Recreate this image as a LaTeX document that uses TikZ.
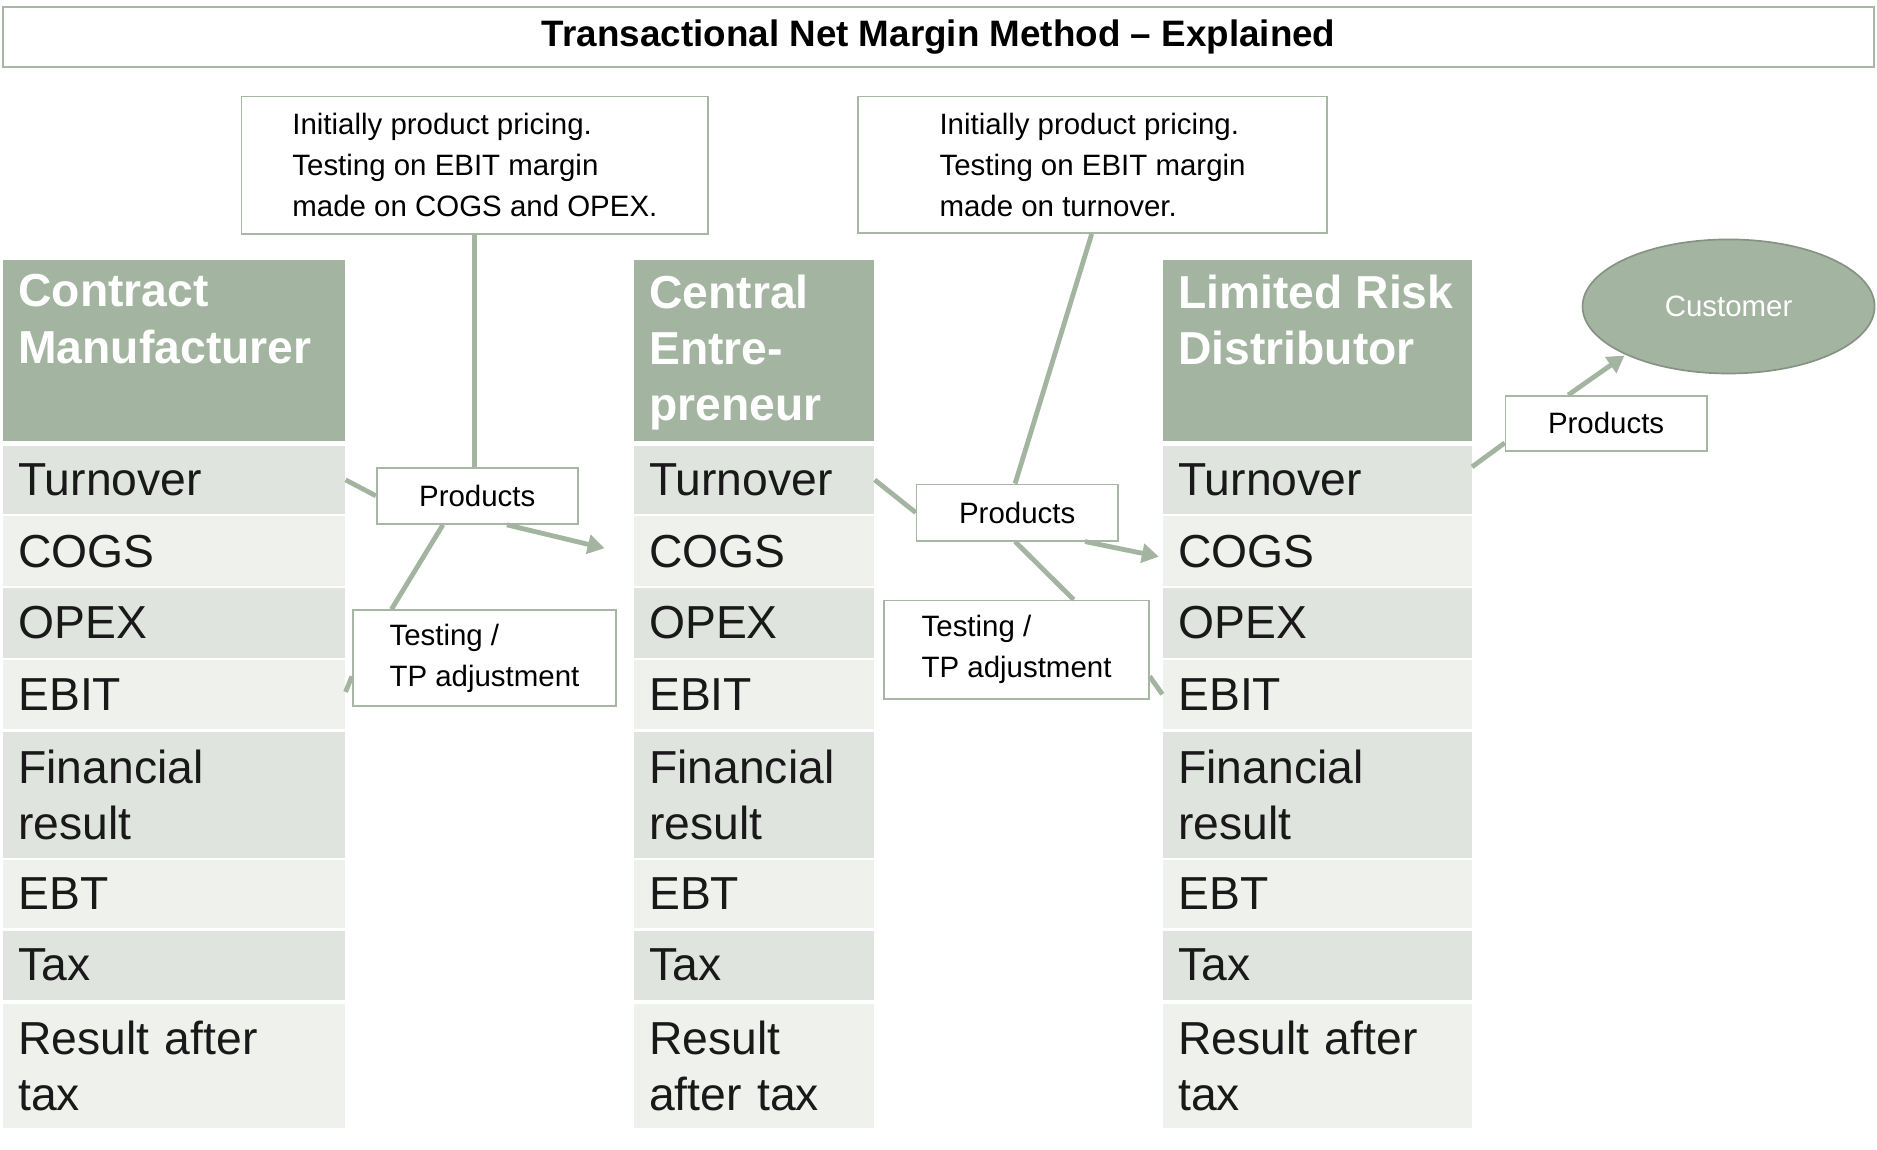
\documentclass[tikz,border=0pt]{standalone}
\usepackage{fontspec}
\setmainfont{Liberation Sans}
\usetikzlibrary{arrows.meta,positioning,shapes.geometric}
\definecolor{sage}{HTML}{A3B5A0}
\definecolor{rowdark}{HTML}{E0E4DE}
\definecolor{rowlight}{HTML}{EFF1ED}
\definecolor{boxline}{HTML}{A8B6A5}
\tikzset{
	cell/.style={draw=none, anchor=north west, inner xsep=0.26cm, inner ysep=0pt, align=left,
			font=\fontsize{22}{26.7}\selectfont, text=black!90},
	headtext/.style={anchor=north west, inner sep=0pt, align=left, text=white,
			font=\fontsize{22}{26.7}\selectfont\bfseries},
	note/.style={draw=boxline, thick, anchor=north west, align=left, inner xsep=0.22cm,
			font=\fontsize{14}{19.5}\selectfont},
	link/.style={draw=sage, line width=2.3pt},
	flow/.style={link, -{Triangle[length=8pt,width=9pt]}}
}
% one cell of a column: name, x, y, width, height, colour, text
\newcommand\cellbox[7]{%
	\pgfmathsetlengthmacro\cw{(#4-26)*0.02cm}%
	\node[cell, fill=#6, minimum width=#4*0.02cm, minimum height=#5*0.02cm, text width=\cw]
		(#1) at (#2*0.02, -#3*0.02) {#7};}
% a whole column: prefix, x, width, header text
\newcommand\ledger[4]{%
	\node[fill=sage, anchor=north west, inner sep=0pt, minimum width=#3*0.02cm,
		minimum height=151*0.02cm] (#1head) at (#2*0.02, -217*0.02) {};
	\node[headtext] (#1title) at (#2*0.02+0.26, -229*0.02) {#4};
	\cellbox{#1turn}{#2}{372}{#3}{57}{rowdark}{Turnover}
	\cellbox{#1cogs}{#2}{431}{#3}{58}{rowlight}{COGS}
	\cellbox{#1opex}{#2}{491}{#3}{58}{rowdark}{OPEX}
	\cellbox{#1ebit}{#2}{551}{#3}{58}{rowlight}{EBIT}
	\cellbox{#1fin}{#2}{611}{#3}{105}{rowdark}{Financial\\result}
	\cellbox{#1ebt}{#2}{718}{#3}{57}{rowlight}{EBT}
	\cellbox{#1tax}{#2}{777}{#3}{58}{rowdark}{Tax}}

\begin{document}
\begin{tikzpicture}
	\useasboundingbox (0,0) rectangle (1568*0.02, -960*0.02);

	\node[draw=boxline, thick, anchor=north west, minimum width=1563*0.02cm, minimum height=50*0.02cm,
		font=\fontsize{17.5}{20}\selectfont\bfseries] (title) at (2*0.02, -5*0.02)
		{Transactional Net Margin Method -- Explained};

	\ledger{cm}{2}{286}{Contract\\Manufacturer}
	\cellbox{cmres}{2}{838}{286}{104}{rowlight}{Result after\\tax}
	\ledger{ce}{529}{201}{Central\\Entre-\\preneur}
	\cellbox{ceres}{529}{838}{201}{104}{rowlight}{Result\\after tax}
	\ledger{lrd}{971}{258}{Limited Risk\\Distributor}
	\cellbox{lrdres}{971}{838}{258}{104}{rowlight}{Result after\\tax}

	\node[draw=boxline!80!black, thick, ellipse, fill=sage, minimum width=244*0.02cm, minimum height=112*0.02cm,
		text=white, font=\fontsize{14}{16}\selectfont] (customer) at (1444*0.02, -256*0.02) {Customer};

	\node[note, minimum width=390*0.02cm, minimum height=115*0.02cm] (noteone) at (201*0.02, -80*0.02)
		{Initially product pricing.\\Testing on EBIT margin\\made on COGS and OPEX.};
	\node[note, minimum width=392*0.02cm, minimum height=114*0.02cm] (notetwo) at (716*0.02, -80*0.02)
		{Initially product pricing.\\Testing on EBIT margin\\made on turnover.};

	\node[note, fill=white, minimum width=168*0.02cm, minimum height=47*0.02cm] (prodone) at (314*0.02, -390*0.02) {Products};
	\node[note, fill=white, minimum width=168*0.02cm, minimum height=47*0.02cm] (prodtwo) at (765*0.02, -404*0.02) {Products};
	\node[note, fill=white, minimum width=168*0.02cm, minimum height=46*0.02cm] (prodthree) at (1257*0.02, -330*0.02) {Products};
	\node[note, fill=white, minimum width=220*0.02cm, minimum height=80*0.02cm] (testone) at (294*0.02, -509*0.02) {Testing /\\TP adjustment};
	\node[note, fill=white, minimum width=221*0.02cm, minimum height=82*0.02cm] (testtwo) at (738*0.02, -501*0.02) {Testing /\\TP adjustment};

	% connectors
	\coordinate (arrone) at (505*0.02, -458*0.02);
	\coordinate (arrtwo) at (968*0.02, -465*0.02);
	\coordinate (arrthree) at (1357*0.02, -297*0.02);
	\draw[link] (noteone.south) -- (prodone.north -| noteone.south);
	\draw[link] (cmturn.east) -- (prodone.west);
	\draw[flow] ([xshift=-1.2cm]prodone.south east) -- (arrone);
	\draw[link] ([xshift=1.12cm]prodone.south west) -- ([xshift=0.66cm]testone.north west);
	\draw[link] ([yshift=-1.12cm]testone.north west) -- ([yshift=-0.54cm]cmebit.north east);

	\draw[link] ([xshift=3.92cm]notetwo.south west) -- ([xshift=1.66cm]prodtwo.north west);
	\draw[link] (ceturn.east) -- (prodtwo.west);
	\draw[flow] ([xshift=-0.56cm]prodtwo.south east) -- (arrtwo);
	\draw[link] ([xshift=1.66cm]prodtwo.south west) -- ([xshift=3.18cm]testtwo.north west);
	\draw[link] ([yshift=-1.28cm]testtwo.north east) -- ([yshift=-0.58cm]lrdebit.north west);

	\draw[link] ([yshift=-0.36cm]lrdturn.north east) -- ([yshift=-0.8cm]prodthree.north west);
	\draw[flow] ([xshift=1.06cm]prodthree.north west) -- (arrthree);
\end{tikzpicture}
\end{document}
